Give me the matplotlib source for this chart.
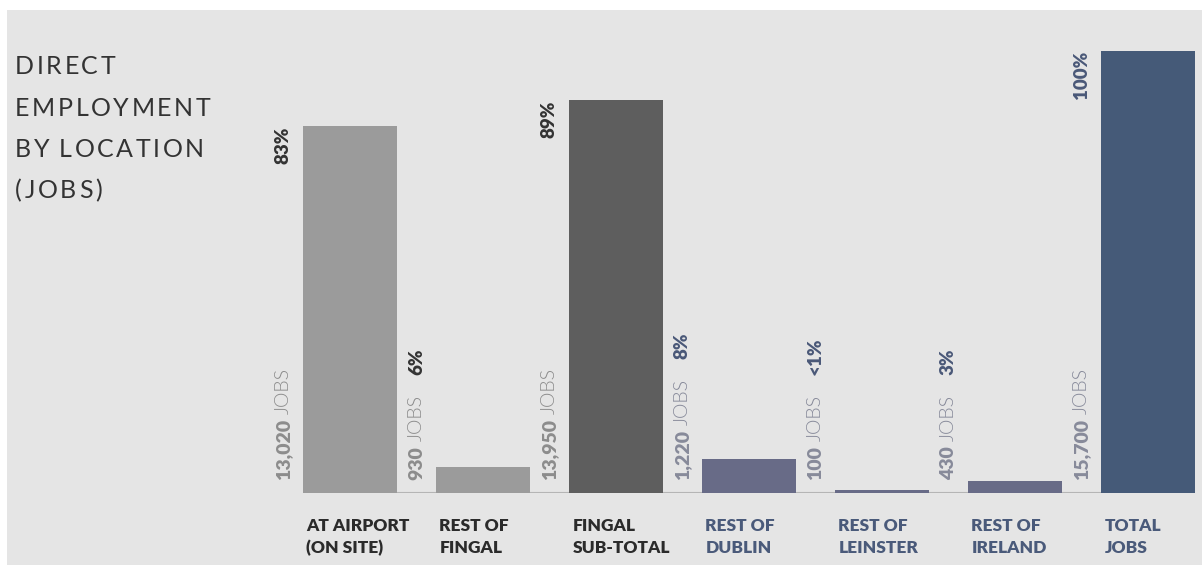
import matplotlib.pyplot as plt
from matplotlib.patches import Rectangle

# data
categories = ['AT AIRPORT\n(ON SITE)', 'REST OF\nFINGAL', 'FINGAL\nSUB-TOTAL',
              'REST OF\nDUBLIN', 'REST OF\nLEINSTER', 'REST OF\nIRELAND', 'TOTAL\nJOBS']
jobs = [13020, 930, 13950, 1220, 100, 430, 15700]
jobs_text = ['13,020', '930', '13,950', '1,220', '100', '430', '15,700']
pct_text = ['83%', '6%', '89%', '8%', '<1%', '3%', '100%']

bar_colors = ['#9b9b9b', '#9b9b9b', '#5e5e5e', '#686b87', '#686b87', '#686b87', '#455a78']
pct_colors = ['#333333', '#333333', '#333333', '#4a5878', '#4a5878', '#4a5878', '#4a5878']
jobs_colors = ['#8c8c8c', '#8c8c8c', '#8c8c8c', '#878a9a', '#878a9a', '#878a9a', '#878a9a']
cat_colors = ['#2b2b2b', '#2b2b2b', '#2b2b2b', '#4a5a7a', '#4a5a7a', '#4a5a7a', '#4a5a7a']

plt.rcParams['font.family'] = ['Lato', 'DejaVu Sans']

W, H = 1202, 565
fig = plt.figure(figsize=(W / 100, H / 100), dpi=100)
fig.patch.set_facecolor('white')
fig.patches.append(Rectangle((7 / W, 0), 1, 1 - 10 / H, transform=fig.transFigure,
                             facecolor='#e5e5e5', edgecolor='none', zorder=-10))

# axes placed so that bar centres sit at 350 + 133*i px
left_px, right_px = 250, 1202
ax = fig.add_axes([left_px / W, (H - 493) / H, (right_px - left_px) / W, (493 - 51) / H])
ax.set_xlim((left_px - 350) / 133, (right_px - 350) / 133)
ax.set_ylim(0, max(jobs))
ax.axis('off')

xs = list(range(len(jobs)))
w = 0.7
ax.bar(xs, jobs, width=w, color=bar_colors, zorder=2)
ax.hlines(0, xs[0] - w / 2, xs[-1] - w / 2, color='#b5b5b5', lw=1.5, zorder=1)

fig.canvas.draw()
renderer = fig.canvas.get_renderer()

# title, letter spaced char by char
title_lines = ['DIRECT', 'EMPLOYMENT', 'BY LOCATION', '(JOBS)']
tracking = 2.6
for k, line in enumerate(title_lines):
    xpx = 15
    ypx = H - (55 + 41.5 * k)
    for ch in line:
        if ch == ' ':
            xpx += 7
            continue
        t = fig.text(xpx / W, ypx / H, ch, fontsize=18, fontweight='normal',
                     color='#333333', va='top', ha='left')
        xpx += t.get_window_extent(renderer).width + tracking

# category labels
for i, cat in enumerate(categories):
    ax.annotate(cat, (xs[i] - w / 2, 0), xytext=(3, -25), textcoords='offset pixels',
                ha='left', va='top', fontsize=12.5, fontweight='heavy', color=cat_colors[i],
                linespacing=1.45)

# job count labels (bold number + light JOBS), rotated
base = ax.transData.transform((0, 0))[1]
for i in xs:
    num = ax.annotate(jobs_text[i], (xs[i] - w / 2, 0), xytext=(-20, 13),
                      textcoords='offset pixels', rotation=90, ha='center', va='bottom',
                      fontsize=14, fontweight='heavy', color=jobs_colors[i])
    top_num = num.get_window_extent(renderer).y1 - base
    lab = ax.annotate('JOBS', (xs[i] - w / 2, 0), xytext=(-20, top_num + 5),
                      textcoords='offset pixels', rotation=90, ha='center', va='bottom',
                      fontsize=14, fontweight=300, color=jobs_colors[i])
    top_lab = lab.get_window_extent(renderer).y1
    bar_top = ax.transData.transform((0, jobs[i]))[1]
    if bar_top > top_lab + 60:
        ax.annotate(pct_text[i], (xs[i] - w / 2, jobs[i]), xytext=(-20, 0),
                    textcoords='offset pixels', rotation=90, ha='center', va='top',
                    fontsize=13.5, fontweight='heavy', color=pct_colors[i])
    else:
        ax.annotate(pct_text[i], (xs[i] - w / 2, 0), xytext=(-20, top_lab - base + 20),
                    textcoords='offset pixels', rotation=90, ha='center', va='bottom',
                    fontsize=13.5, fontweight='heavy', color=pct_colors[i])

fig.savefig('out.png', dpi=100)
